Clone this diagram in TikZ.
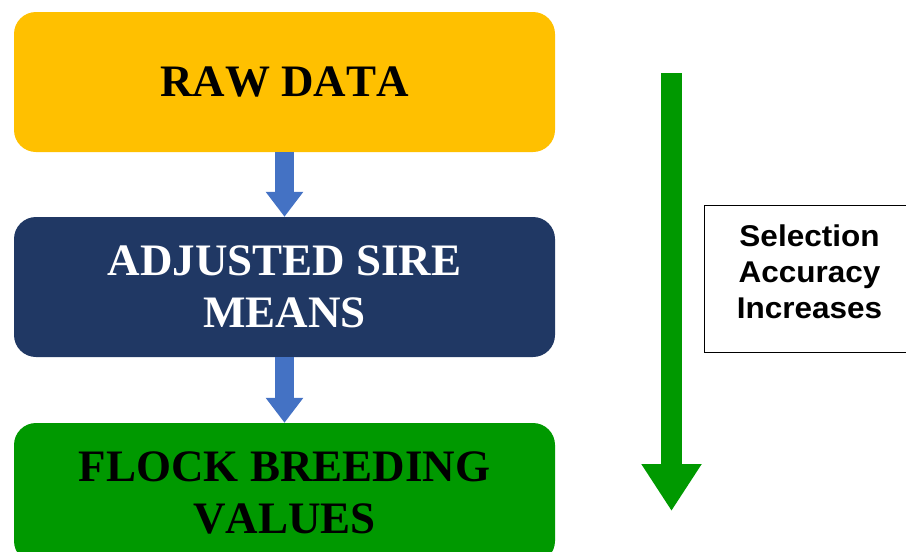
\documentclass[tikz,border=0pt]{standalone}
\usepackage{fontspec}
\setmainfont{Liberation Serif}[Kerning=Off]
\newfontfamily\arialfont{Liberation Sans}[FakeStretch=1.05]
\usetikzlibrary{arrows.meta}
\definecolor{rawcol}{HTML}{FFC000}
\definecolor{adjcol}{HTML}{203864}
\definecolor{flockcol}{HTML}{009900}
\definecolor{bluearrow}{HTML}{4472C4}
\definecolor{greenarrow}{HTML}{009900}
\tikzset{
  stage/.style={rectangle, rounded corners=22pt, minimum width=541pt, minimum height=140pt,
    inner sep=0pt, align=center, font=\fontsize{45}{52}\selectfont\bfseries},
  flowarrow/.style={draw=bluearrow, line width=19pt, -{Triangle[width=36pt,length=25pt]}},
  bigarrow/.style={draw=greenarrow, line width=21pt, -{Triangle[width=57pt,length=47pt]}},
  notebox/.style={draw=black, line width=0.8pt, rectangle, minimum width=208pt, minimum height=147pt,
    inner sep=0pt},
  notetext/.style={inner sep=0pt, align=center, font=\fontsize{30}{36}\selectfont\arialfont\bfseries}
}
\begin{document}
\begin{tikzpicture}[x=1pt,y=-1pt]
\useasboundingbox (0,0) rectangle (906,552);
\node[stage, fill=rawcol, text=black] (raw) at (284.5,82) {RAW DATA};
\node[stage, fill=adjcol, text=white] (adj) at (284.5,287) {ADJUSTED SIRE\\MEANS};
\node[stage, fill=flockcol, text=black] (flock) at (284.5,493) {FLOCK BREEDING\\VALUES};
\draw[flowarrow] (raw.south) -- (adj.north);
\draw[flowarrow] (adj.south) -- (flock.north);
\coordinate (gtop) at (671.5,73);
\coordinate (gbot) at (671.5,511);
\draw[bigarrow] (gtop) -- (gbot);
\node[notebox] (note) at (808,278.5) {};
\node[notetext] (notelabel) at (809.5,272) {Selection\\Accuracy\\Increases};
\end{tikzpicture}
\end{document}
